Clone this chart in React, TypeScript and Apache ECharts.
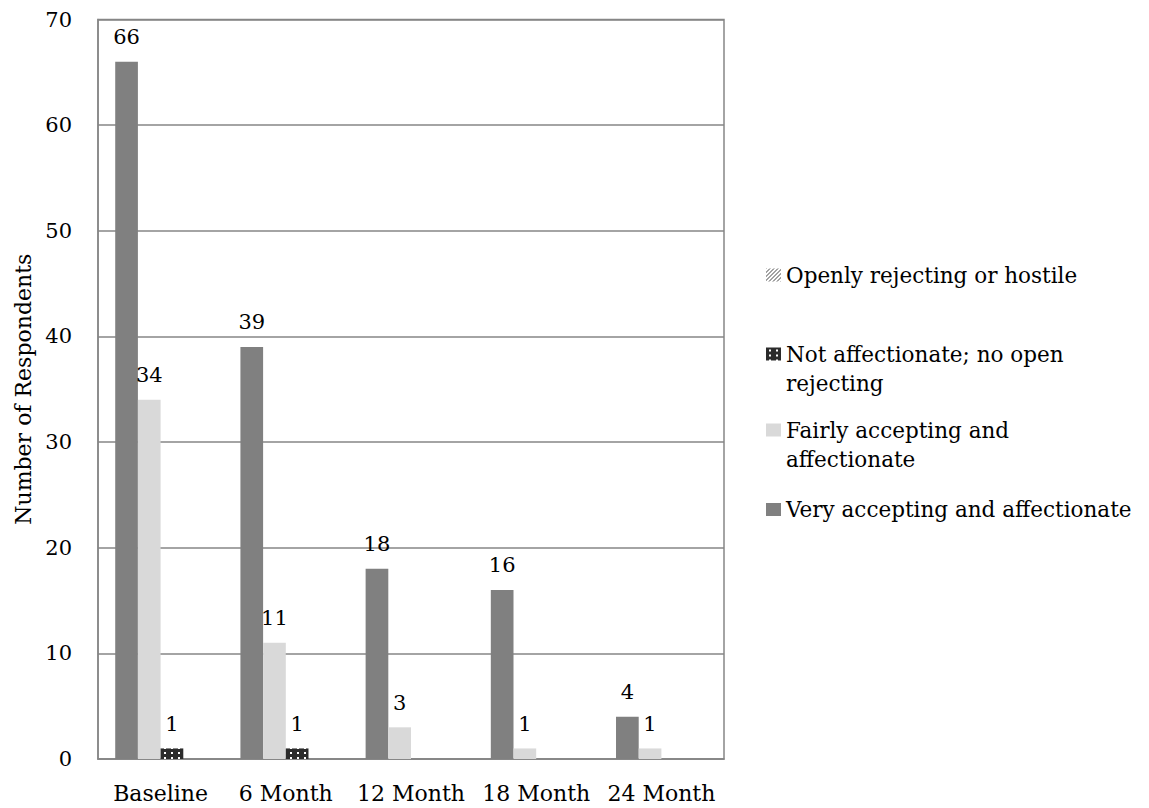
import React, { useEffect, useRef } from "react";
import * as echarts from "echarts";

const categories = ["Baseline", "6 Month", "12 Month", "18 Month", "24 Month"];
const veryAccepting = [66, 39, 18, 16, 4];
const fairlyAccepting = [34, 11, 3, 1, 1];
const notAffectionate = [1, 1, 0, 0, 0];
const openlyRejecting = [0, 0, 0, 0, 0];
const seriesNames = [
  "Very accepting and affectionate",
  "Fairly accepting and affectionate",
  "Not affectionate; no open rejecting",
  "Openly rejecting or hostile",
];
const legendLines = [
  ["Very accepting and affectionate"],
  ["Fairly accepting and", "affectionate"],
  ["Not affectionate; no open", "rejecting"],
  ["Openly rejecting or hostile"],
];
const yTicks = { min: 0, max: 70, interval: 10 };

const FONT = "DejaVu Serif";

function makeDots(): HTMLCanvasElement {
  const c = document.createElement("canvas");
  c.width = 7;
  c.height = 5;
  const ctx = c.getContext("2d")!;
  ctx.fillStyle = "#2b2b2b";
  ctx.fillRect(0, 0, 7, 5);
  ctx.fillStyle = "#ffffff";
  ctx.fillRect(3, 2, 2, 2);
  return c;
}

function makeHatch(): HTMLCanvasElement {
  const c = document.createElement("canvas");
  c.width = 4;
  c.height = 4;
  const ctx = c.getContext("2d")!;
  ctx.fillStyle = "#ffffff";
  ctx.fillRect(0, 0, 4, 4);
  ctx.fillStyle = "#444444";
  for (let i = 0; i < 4; i++) ctx.fillRect(3 - i, i, 1, 1);
  return c;
}

export default function App() {
  const ref = useRef<HTMLDivElement>(null);
  useEffect(() => {
    if (!ref.current) return;
    document.body.style.margin = "0";
    const chart = echarts.init(ref.current, undefined, { renderer: "svg" });
    const dots = { image: makeDots(), repeat: "repeat" };
    const hatch = { image: makeHatch(), repeat: "repeat" };
    const colors: any[] = ["#808080", "#d9d9d9", dots, hatch];
    const datas = [veryAccepting, fairlyAccepting, notAffectionate, openlyRejecting];
    const legendCenters = [509.5, 430, 354, 275];
    const LH = 29.5;
    const legends = seriesNames.map((name, i) => {
      const lines = legendLines[i];
      const twoLine = lines.length > 1;
      // a blank line above keeps the first line level with the icon
      const text = twoLine ? " \n" + lines.join("\n") : lines[0];
      const boxH = twoLine ? LH * 3 : LH;
      return {
        data: [name],
        left: 766,
        top: legendCenters[i] - boxH / 2,
        orient: "vertical",
        padding: 0,
        icon: "rect",
        itemWidth: 15,
        itemHeight: 13,
        itemGap: 0,
        formatter: () => text,
        textStyle: {
          fontFamily: FONT,
          fontSize: 21.5,
          color: "#000",
          lineHeight: LH,
        },
        selectedMode: false,
      };
    });
    chart.setOption({
      animation: false,
      backgroundColor: "#fff",
      color: colors,
      grid: {
        left: 98,
        top: 19.5,
        right: 425,
        bottom: 49,
        show: true,
        borderColor: "#868686",
        borderWidth: 1.5,
      },
      legend: legends,
      xAxis: {
        type: "category",
        data: categories,
        axisLine: { lineStyle: { color: "#868686", width: 1.5 } },
        axisTick: { show: false },
        axisLabel: {
          fontFamily: FONT,
          fontSize: 22,
          color: "#000",
          margin: 23,
          interval: 0,
          hideOverlap: false,
        },
      },
      yAxis: {
        type: "value",
        min: yTicks.min,
        max: yTicks.max,
        interval: yTicks.interval,
        name: "Number of Respondents",
        nameLocation: "middle",
        nameGap: 64,
        nameTextStyle: { fontFamily: FONT, fontSize: 22, color: "#000" },
        axisLine: { show: true, lineStyle: { color: "#868686", width: 1.5 } },
        axisTick: { show: false },
        splitLine: { lineStyle: { color: "#868686", width: 1.5 } },
        axisLabel: { fontFamily: FONT, fontSize: 21, color: "#000", margin: 26 },
      },
      series: seriesNames.map((name, i) => ({
        name,
        type: "bar",
        data: datas[i],
        barGap: "0%",
        barCategoryGap: "27.5%",
        itemStyle: { color: colors[i] },
        label: {
          show: true,
          position: "top",
          distance: 14,
          fontFamily: FONT,
          fontSize: 21,
          color: "#000",
          formatter: (p: any) => (p.value ? String(p.value) : ""),
        },
      })),
    });
    return () => chart.dispose();
  }, []);
  return <div ref={ref} style={{ width: 1149, height: 808 }} />;
}
